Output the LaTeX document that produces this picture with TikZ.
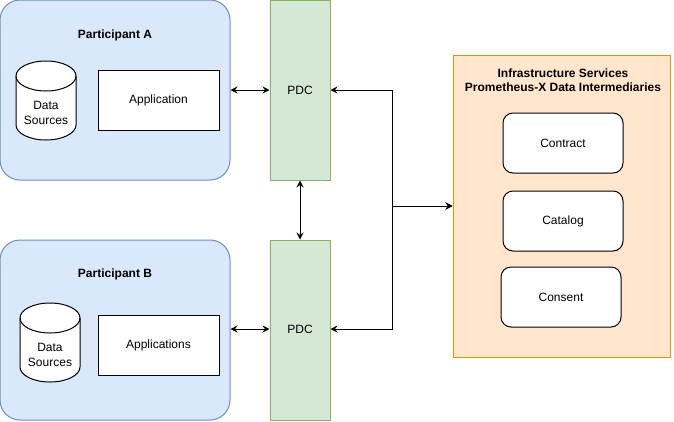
\documentclass[tikz,border=0pt]{standalone}
\usepackage{fontspec}
\setmainfont{Liberation Sans}
\usetikzlibrary{arrows.meta}

\definecolor{partfill}{HTML}{DAE8FC}
\definecolor{partdraw}{HTML}{6C8EBF}
\definecolor{pdcfill}{HTML}{D5E8D4}
\definecolor{pdcdraw}{HTML}{82B366}
\definecolor{infrafill}{HTML}{FFE6CC}
\definecolor{infradraw}{HTML}{D79B00}

\begin{document}
\begin{tikzpicture}[x=1pt,y=-1pt,line width=1pt,
    font=\fontsize{12}{14.5}\selectfont,
    tip/.tip={Stealth[length=7pt,width=7pt,inset=2.5pt]},
    biarrow/.style={draw,{tip}-{tip}}]

        \useasboundingbox (0,0) rectangle (674,421);

        % participants and infrastructure
        \begin{scope}[every node/.style={draw, inner sep=0pt}]
          \node[fill=partfill, draw=partdraw, rounded corners=20pt, minimum width=230pt, minimum height=180pt] (partA) at (115,90) {};
          \node[fill=partfill, draw=partdraw, rounded corners=20pt, minimum width=230pt, minimum height=180pt] (partB) at (115,330) {};
          \node[fill=pdcfill, draw=pdcdraw, minimum width=60pt, minimum height=180pt] (pdcA) at (300,90) {PDC};
          \node[fill=pdcfill, draw=pdcdraw, minimum width=60pt, minimum height=180pt, text height=0pt] (pdcB) at (300,330) {};
          \node[fill=infrafill, draw=infradraw, minimum width=217pt, minimum height=302pt] (infra) at (561.5,206) {};
        \end{scope}

        \node[font=\fontsize{12}{14.5}\selectfont\bfseries] (titleA) at (115,35) {Participant A};
        \node[font=\fontsize{12}{14.5}\selectfont\bfseries] (titleB) at (115,274) {Participant B};
        \node (pdcBtext) at (300,329) {PDC};
        \node[font=\fontsize{12}{14.5}\selectfont\bfseries, align=center] (titleI) at (563,80) {Infrastructure Services\\Prometheus-X Data Intermediaries};

        % data sources
        \filldraw[fill=white] (16,76) -- (16,125) arc[start angle=180,end angle=0,x radius=30,y radius=15]
          -- (76,76) arc[start angle=0,end angle=-180,x radius=30,y radius=15] -- cycle;
        \draw (16,76) arc[start angle=180,end angle=0,x radius=30,y radius=15];
        \filldraw[fill=white] (20,318) -- (20,367) arc[start angle=180,end angle=0,x radius=30,y radius=15]
          -- (80,318) arc[start angle=0,end angle=-180,x radius=30,y radius=15] -- cycle;
        \draw (20,318) arc[start angle=180,end angle=0,x radius=30,y radius=15];
        \node[align=center] (dataA) at (46,113) {Data\\Sources};
        \node[align=center] (dataB) at (50,355) {Data\\Sources};

        % applications and services
        \begin{scope}[every node/.style={draw, fill=white, minimum width=121pt, minimum height=60pt}]
          \node (appA) at (158.5,100) {Application};
          \node (appB) at (158.5,345) {Applications};
        \end{scope}
        \begin{scope}[every node/.style={draw, fill=white, rounded corners=10pt, minimum width=120pt, minimum height=60pt}]
          \node (contract) at (563,143) {Contract};
          \node (catalog)  at (563,221) {Catalog};
          \node (consent)  at (561,297) {Consent};
        \end{scope}

        % connectors
        \coordinate (bus) at (392,206);
        \path[biarrow] (partA.east |- pdcA.west) -- (pdcA.west);
        \path[biarrow] (partB.east |- pdcBtext) -- (pdcB.west |- pdcBtext);
        \path[biarrow] (pdcA.south) -- (pdcB.north);
        \path[biarrow] (infra.west) -- (bus) |- (pdcA.east);
        \path[biarrow] (infra.west) -- (bus) |- (pdcB.east |- pdcBtext);

      \end{tikzpicture}
\end{document}
